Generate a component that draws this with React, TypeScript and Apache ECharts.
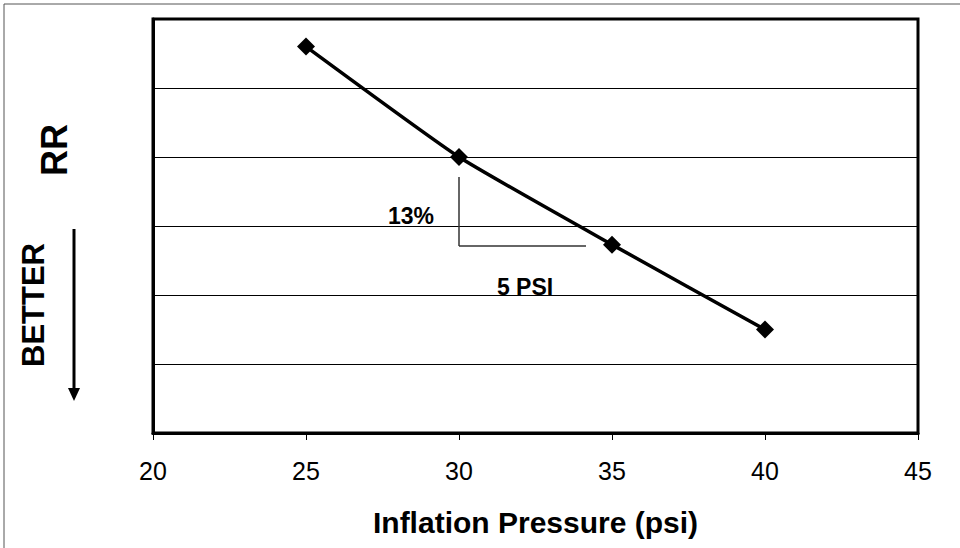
import React, { useEffect, useRef } from "react";
import * as echarts from "echarts";

const pressures = [25, 30, 35, 40];
const rrValues = [5.6, 4.0, 2.73, 1.5];
const xTicks = [20, 25, 30, 35, 40, 45];
const slopeVertical = [[30, 3.71], [30, 2.71]];
const slopeHorizontal = [[30, 2.71], [34.15, 2.71]];

const FONT = "'Liberation Sans', Arial, sans-serif";

export default function App() {
  const ref = useRef<HTMLDivElement>(null);
  useEffect(() => {
    document.body.style.margin = "0";
    document.body.style.overflow = "hidden";
    const chart = echarts.init(ref.current!, null, { renderer: "svg" });
    chart.setOption({
      animation: false,
      backgroundColor: "#fff",
      grid: {
        left: 153,
        right: 42,
        top: 19,
        bottom: 115,
        outerBoundsMode: "none",
        containLabel: false,
        show: true,
        borderColor: "#000",
        borderWidth: 3,
        backgroundColor: "transparent",
      },
      xAxis: {
        type: "value",
        min: xTicks[0],
        max: xTicks[xTicks.length - 1],
        interval: 5,
        name: "Inflation Pressure (psi)",
        nameLocation: "middle",
        nameGap: 74,
        nameTextStyle: { fontFamily: FONT, fontSize: 30, fontWeight: "bold", color: "#000" },
        axisLine: { show: true, lineStyle: { color: "#000", width: 3 } },
        axisTick: { show: true, length: 7, lineStyle: { color: "#000", width: 1 } },
        axisLabel: { fontFamily: FONT, fontSize: 25, color: "#000", margin: 25 },
        splitLine: { show: false },
      },
      yAxis: {
        type: "value",
        min: 0,
        max: 6,
        interval: 1,
        axisLine: { show: true, lineStyle: { color: "#000", width: 3 } },
        axisTick: { show: false },
        axisLabel: { show: false },
        splitLine: { show: true, lineStyle: { color: "#000", width: 1 } },
      },
      series: [
        {
          type: "line",
          data: pressures.map((p, i) => [p, rrValues[i]]),
          smooth: 0.15,
          symbol: "diamond",
          symbolSize: 18,
          itemStyle: { color: "#000" },
          lineStyle: { color: "#000", width: 3.5 },
          z: 5,
        },
        {
          type: "line",
          data: slopeVertical,
          symbol: "none",
          lineStyle: { color: "#333", width: 1.5 },
          z: 3,
        },
        {
          type: "line",
          data: slopeHorizontal,
          symbol: "none",
          lineStyle: { color: "#333", width: 1.5 },
          z: 3,
        },
      ],
      graphic: [
        {
          type: "rect",
          shape: { x: 4, y: 4, width: 990, height: 590 },
          style: { fill: "none", stroke: "#555", lineWidth: 1 },
          silent: true,
        },
        {
          type: "text",
          x: 411,
          y: 216,
          style: { text: "13%", fontFamily: FONT, fontSize: 23, fontWeight: "bold", fill: "#000", align: "center", verticalAlign: "middle" },
        },
        {
          type: "text",
          x: 525,
          y: 287,
          style: { text: "5 PSI", fontFamily: FONT, fontSize: 23, fontWeight: "bold", fill: "#000", align: "center", verticalAlign: "middle" },
        },
        {
          type: "text",
          x: 54,
          y: 150,
          rotation: Math.PI / 2,
          style: { text: "RR", fontFamily: FONT, fontSize: 36, fontWeight: "bold", fill: "#000", align: "center", verticalAlign: "middle" },
        },
        {
          type: "text",
          x: 33,
          y: 305,
          rotation: Math.PI / 2,
          style: { text: "BETTER", fontFamily: FONT, fontSize: 31, fontWeight: "bold", fill: "#000", align: "center", verticalAlign: "middle" },
        },
        {
          type: "line",
          shape: { x1: 74, y1: 229, x2: 74, y2: 390 },
          style: { stroke: "#000", lineWidth: 3 },
        },
        {
          type: "polygon",
          shape: { points: [[68, 388], [80, 388], [74, 401]] },
          style: { fill: "#000" },
        },
      ],
    });
    return () => chart.dispose();
  }, []);
  return (
    <div style={{ position: "fixed", left: 0, top: 0, width: 960, height: 548, overflow: "hidden" }}>
      <div ref={ref} style={{ width: 960, height: 548 }} />
    </div>
  );
}
